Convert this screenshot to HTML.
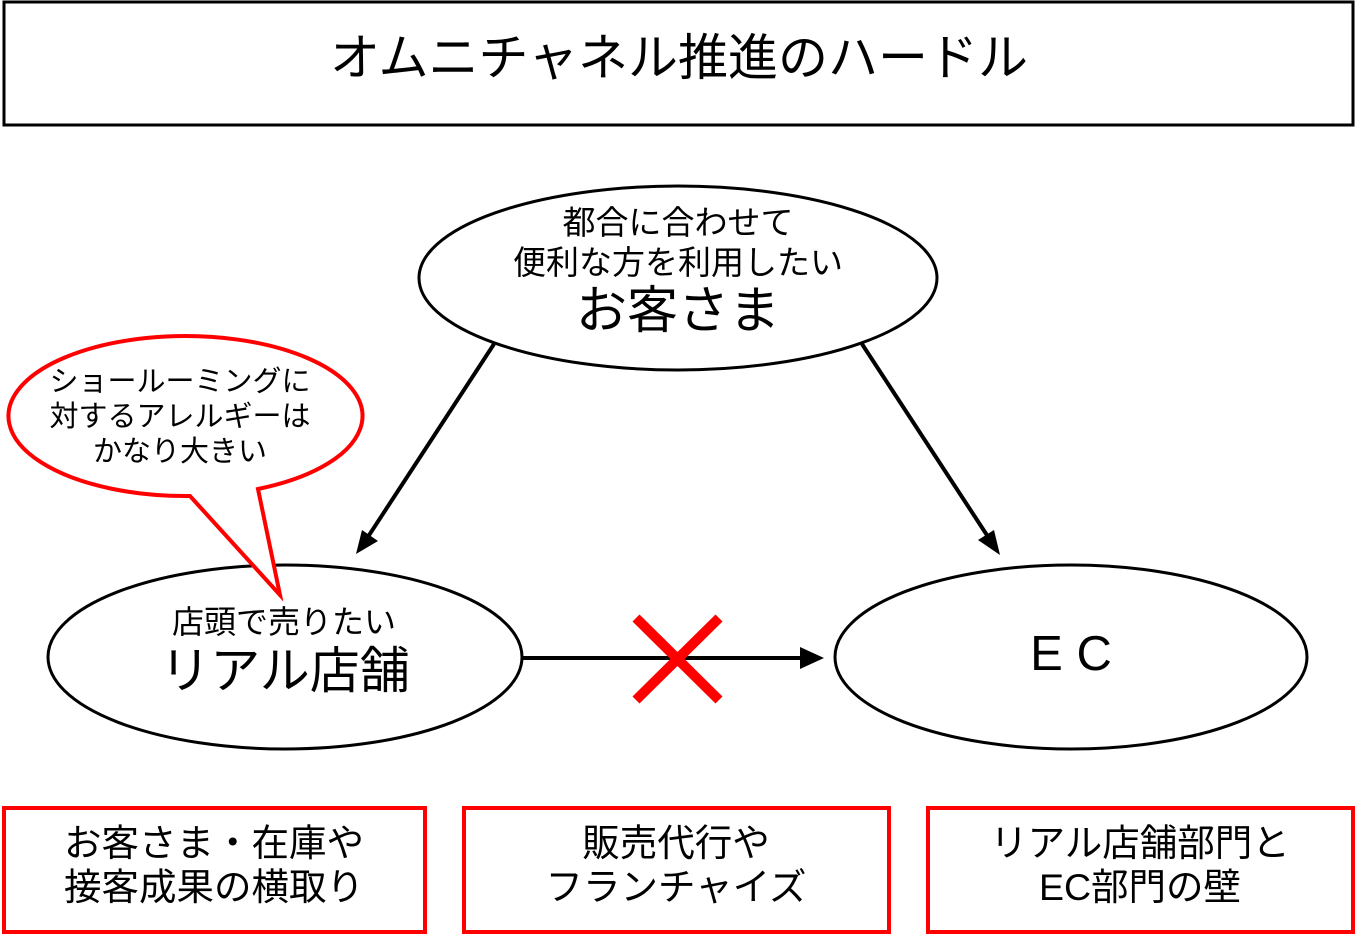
<!DOCTYPE html>
<html><head><meta charset="utf-8"><style>
html,body{margin:0;padding:0;background:#fff;}
svg{display:block}
text{font-family:"Liberation Sans","Noto Sans CJK JP",sans-serif;fill:#000;text-anchor:middle}
</style></head><body>
<svg width="1356" height="938" viewBox="0 0 1356 938" xmlns="http://www.w3.org/2000/svg">
<rect x="4" y="2" width="1349" height="123" fill="#fff" stroke="#000" stroke-width="3"/>
<text x="679" y="75" font-size="50">オムニチャネル推進のハードル</text>

<ellipse cx="678" cy="278" rx="259" ry="92" fill="#fff" stroke="#000" stroke-width="3"/>
<text x="678" y="234" font-size="33">都合に合わせて</text>
<text x="678" y="274" font-size="33">便利な方を利用したい</text>
<text x="678" y="328" font-size="51">お客さま</text>

<line x1="494" y1="344" x2="360" y2="549" stroke="#000" stroke-width="4"/>
<polygon points="356,554 362,530 378,541" fill="#000"/>
<line x1="862" y1="344" x2="996" y2="549" stroke="#000" stroke-width="4"/>
<polygon points="1000,555 978,540 994,530" fill="#000"/>

<ellipse cx="285" cy="657" rx="237" ry="92" fill="#fff" stroke="#000" stroke-width="3"/>
<text x="284" y="633" font-size="32">店頭で売りたい</text>
<text x="285" y="688" font-size="50">リアル店舗</text>

<ellipse cx="1071" cy="657" rx="236" ry="92" fill="#fff" stroke="#000" stroke-width="3"/>
<text x="1071" y="670" font-size="49">E C</text>

<line x1="522" y1="658" x2="800" y2="658" stroke="#000" stroke-width="4"/>
<polygon points="824,658 800,647 800,669" fill="#000"/>
<line x1="636" y1="618" x2="719" y2="700" stroke="#f00" stroke-width="10"/>
<line x1="719" y1="618" x2="636" y2="700" stroke="#f00" stroke-width="10"/>

<path d="M190,496 A177,80 0 1 1 258,489 L280,595 Z" fill="#fff" stroke="#f00" stroke-width="4" stroke-linejoin="miter"/>
<text x="180" y="391" font-size="29">ショールーミングに</text>
<text x="180" y="426" font-size="29">対するアレルギーは</text>
<text x="180" y="461" font-size="29">かなり大きい</text>

<rect x="4" y="808" width="421" height="124" fill="#fff" stroke="#f00" stroke-width="4"/>
<text x="214" y="856" font-size="37.5">お客さま・在庫や</text>
<text x="214" y="900" font-size="37.5">接客成果の横取り</text>
<rect x="464" y="808" width="425" height="124" fill="#fff" stroke="#f00" stroke-width="4"/>
<text x="676" y="856" font-size="37.5">販売代行や</text>
<text x="676" y="900" font-size="37.5">フランチャイズ</text>
<rect x="928" y="808" width="425" height="124" fill="#fff" stroke="#f00" stroke-width="4"/>
<text x="1140" y="856" font-size="37.5">リアル店舗部門と</text>
<text x="1140" y="900" font-size="37.5">EC部門の壁</text>
</svg>
</body></html>
